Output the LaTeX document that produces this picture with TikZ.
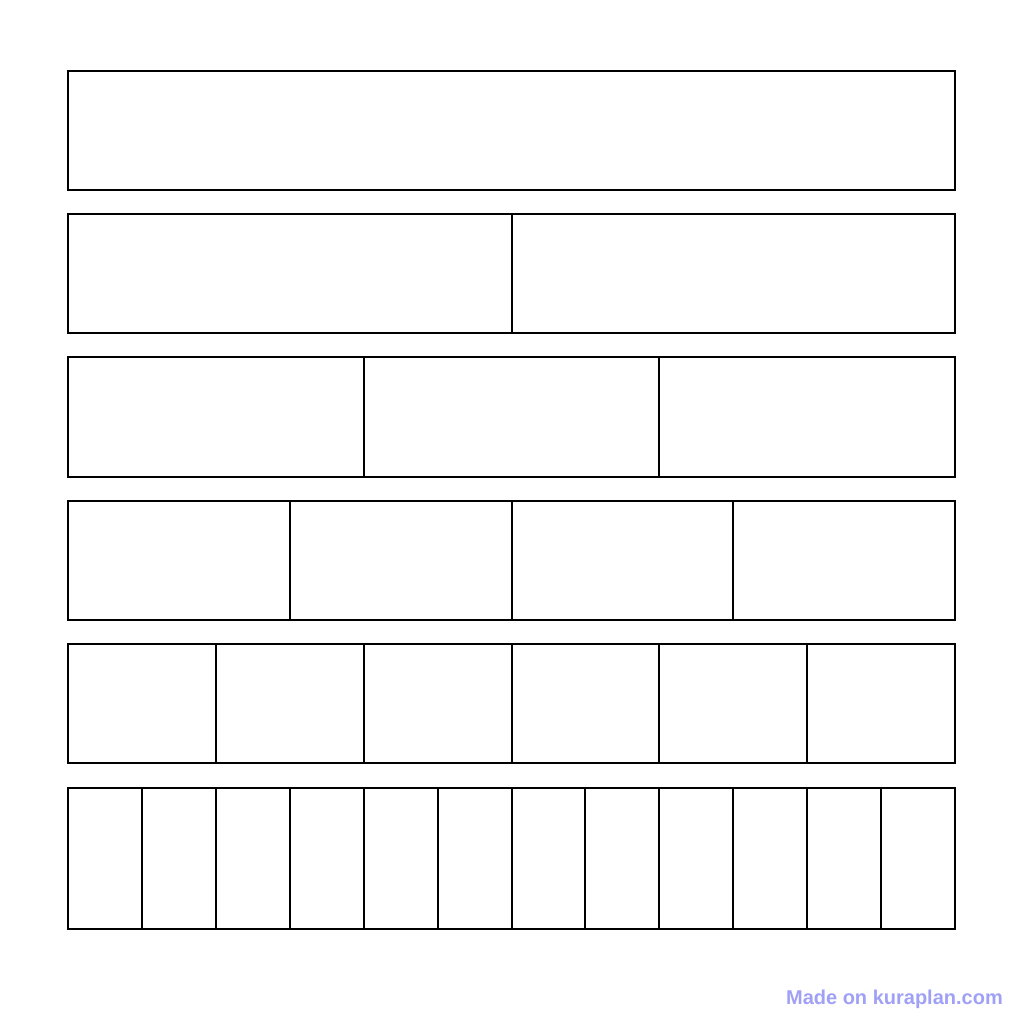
\documentclass[tikz,border=0pt]{standalone}
\usepackage{fontspec}
\setmainfont{Liberation Sans}
\definecolor{kpBlue}{HTML}{A0A0F6}
\usetikzlibrary{positioning}

\begin{document}
\begin{tikzpicture}[x=1pt, y=-1pt, strip/.style={black, line width=2pt}]
  \useasboundingbox (0,0) rectangle (1024,1024);
  % fraction strips: divisions/top/bottom
  \foreach \n/\top/\bot in {1/71/190, 2/214/333, 3/357/477, 4/501/620, 6/644/763, 12/788/929} {
    \draw[strip] (68,\top) rectangle (955,\bot);
    \ifnum\n>1
      \foreach \k in {1,...,\numexpr\n-1\relax} {
        \draw[strip] ({68+\k*887/\n},\top) -- ({68+\k*887/\n},\bot);
      }
    \fi
  }
  \node[anchor=east, inner sep=0pt, text=kpBlue, font=\bfseries\fontsize{20}{20}\selectfont] (mark) at (1003,999) {Made on kuraplan.com};
\end{tikzpicture}
\end{document}
